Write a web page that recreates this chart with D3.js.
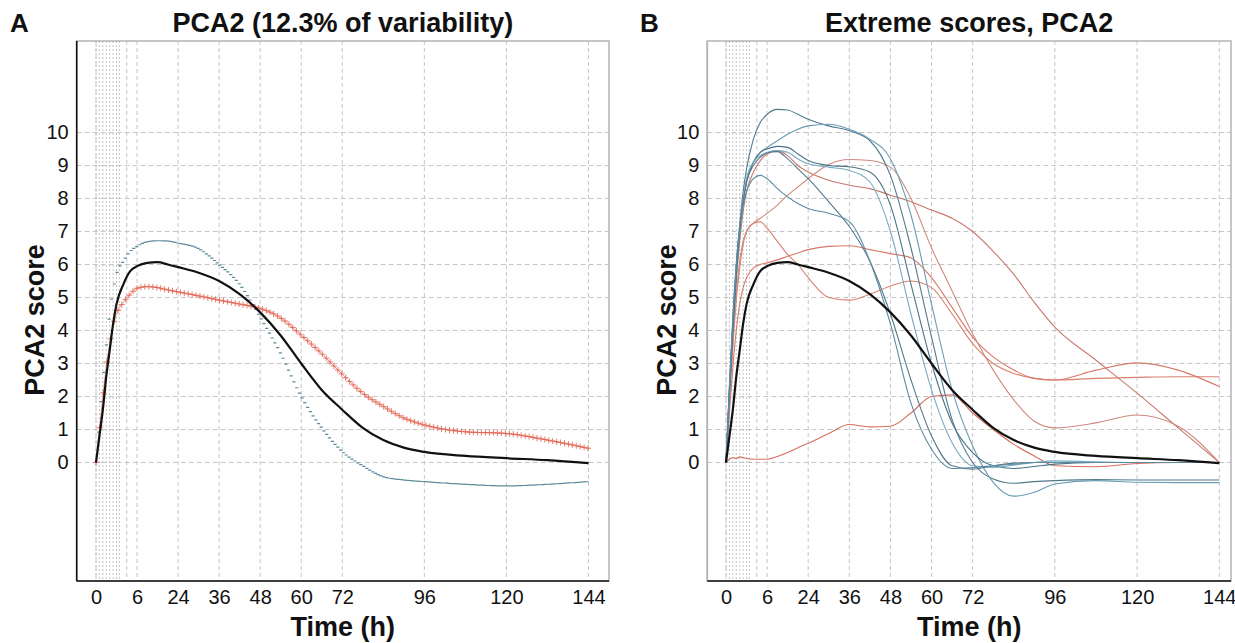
<!DOCTYPE html>
<html>
<head>
<meta charset="utf-8">
<script src="https://cdn.jsdelivr.net/npm/d3@7"></script>
<style>
  body { margin: 0; background: #fff; }
  text { font-family: "Liberation Sans", Arial, sans-serif; }
</style>
</head>
<body>
<svg id="chart" width="1235" height="643"></svg>
<script>
// sample times (h) the score curves are read at
const hours = [0, 1, 2, 3, 4, 5, 6, 8, 10, 12, 15, 18, 21, 24, 30, 36, 42, 48, 54, 60, 66, 72, 78, 84, 90, 96, 108, 120, 132, 144];

// x axis: labelled positions (the second one is labelled "6" in the original)
const tickHours = [0, 12, 24, 36, 48, 60, 72, 96, 120, 144];
const tickLabels = ["0", "6", "24", "36", "48", "60", "72", "96", "120", "144"];
const denseHours = [0, 1, 2, 3, 4, 5, 6, 6.8];
const extraGridHours = [9];
const scoreTicks = [0, 1, 2, 3, 4, 5, 6, 7, 8, 9, 10];

// panel A
const meanScore  = [0, 0.8, 1.6, 2.6, 3.4, 4.2, 4.8, 5.4, 5.8, 5.95, 6.05, 6.07, 6.0, 5.92, 5.75, 5.5, 5.1, 4.55, 3.85, 3.0, 2.2, 1.6, 1.05, 0.68, 0.45, 0.32, 0.2, 0.13, 0.07, -0.02];
const redScore   = [0, 1.0, 2.0, 2.9, 3.6, 4.15, 4.5, 4.85, 5.1, 5.28, 5.33, 5.3, 5.23, 5.17, 5.05, 4.92, 4.8, 4.67, 4.38, 3.86, 3.3, 2.67, 2.1, 1.7, 1.35, 1.14, 0.93, 0.88, 0.68, 0.43];
const blueScore  = [0, 1.2, 2.4, 3.5, 4.5, 5.2, 5.7, 6.1, 6.4, 6.55, 6.69, 6.72, 6.71, 6.65, 6.48, 6.0, 5.4, 4.4, 3.3, 2.0, 1.05, 0.33, -0.1, -0.43, -0.53, -0.58, -0.66, -0.71, -0.66, -0.58];

// panel B, extreme scores
const extremeBlue = [
  [0, 2.2, 4.2, 5.9, 7.2, 8.2, 8.9, 9.8, 10.3, 10.55, 10.7, 10.68, 10.55, 10.4, 10.2, 10.05, 9.75, 8.7, 6.5, 3.8, 1.3, 0.0, -0.5, -0.63, -0.58, -0.55, -0.52, -0.53, -0.53, -0.53],
  [0, 2.0, 3.9, 5.6, 6.9, 7.9, 8.5, 9.1, 9.4, 9.55, 9.75, 9.95, 10.1, 10.2, 10.25, 10.1, 9.8, 9.2, 7.5, 4.8, 2.2, 0.5, -0.6, -1.02, -0.9, -0.65, -0.55, -0.6, -0.61, -0.61],
  [0, 2.1, 4.0, 5.7, 7.0, 7.9, 8.5, 9.1, 9.4, 9.5, 9.58, 9.55, 9.35, 9.15, 9.0, 8.96, 8.8, 7.8, 5.4, 3.0, 1.2, 0.3, -0.1, -0.18, -0.12, -0.05, 0, 0, 0, 0],
  [0, 2.3, 4.4, 6.0, 7.2, 8.0, 8.6, 9.1, 9.3, 9.4, 9.45, 9.4, 9.2, 9.05, 8.95, 8.85, 8.5, 7.0, 4.5, 2.2, 0.6, -0.1, -0.15, -0.08, 0, 0.05, 0.02, 0, 0, 0],
  [0, 2.2, 4.2, 5.9, 7.1, 7.9, 8.5, 9.0, 9.25, 9.38, 9.42, 9.2, 8.9, 8.6, 7.9, 7.15, 6.1, 4.5, 2.5, 0.8, -0.1, -0.2, -0.1, -0.02, 0, 0, 0, 0, 0, 0],
  [0, 2.3, 4.4, 6.0, 7.1, 7.8, 8.2, 8.6, 8.7, 8.6, 8.3, 8.05, 7.85, 7.7, 7.55, 7.3, 6.1, 4.2, 1.8, 0.4, -0.18, -0.15, -0.1, -0.05, 0, 0, 0, 0, 0, 0]
];
const extremeRed = [
  [0, 2.0, 3.9, 5.5, 6.7, 7.6, 8.2, 8.8, 9.15, 9.35, 9.45, 9.3, 9.0, 8.8, 8.55, 8.4, 8.3, 8.1, 7.9, 7.65, 7.4, 7.0, 6.4, 5.7, 4.85, 4.1, 3.1, 2.1, 1.05, 0],
  [0, 1.8, 3.5, 4.9, 5.9, 6.6, 7.0, 7.25, 7.3, 7.1, 6.7, 6.3, 6.0, 5.6, 5.0, 4.92, 5.1, 5.35, 5.5, 5.3, 4.5, 3.6, 3.0, 2.7, 2.55, 2.5, 2.55, 2.58, 2.6, 2.6],
  [0, 1.5, 2.9, 4.0, 4.8, 5.3, 5.6, 5.9, 6.0, 6.05, 6.14, 6.25, 6.35, 6.45, 6.55, 6.57, 6.45, 6.33, 6.2, 5.6, 4.7, 3.8, 3.2, 2.8, 2.55, 2.5, 2.8, 3.02, 2.8, 2.3],
  [0, 1.9, 3.7, 5.1, 6.1, 6.7, 7.0, 7.25, 7.4, 7.55, 7.8, 8.1, 8.35, 8.6, 9.03, 9.18, 9.15, 8.95, 8.0, 6.5, 5.2, 3.9, 2.8, 1.9, 1.25, 1.05, 1.2, 1.44, 1.1, 0],
  [0, 0.1, 0.15, 0.12, 0.17, 0.15, 0.12, 0.1, 0.1, 0.1, 0.18, 0.3, 0.45, 0.58, 0.88, 1.15, 1.08, 1.1, 1.5, 2.0, 2.05, 1.5, 1.0, 0.55, 0.2, -0.1, -0.13, -0.03, 0, 0]
];
const blueColors = ["#52798c", "#6a9cb4", "#4a7388", "#74aac2", "#55788a", "#5b8aa2"];
const redColors = ["#c9786c", "#d9826f", "#d8786a", "#cf8a7e", "#d66f60"];

const svg = d3.select("#chart");
svg.append("rect").attr("width", 1235).attr("height", 643).attr("fill", "#fff");

function drawPanel(p) {
  const g = svg.append("g");
  const x = d3.scaleLinear().domain([0, 144]).range([p.x0, p.x144]);
  const y = d3.scaleLinear().domain([0, 10]).range([462.5, 132.5]);

  // grid
  g.selectAll(".hgrid").data(scoreTicks).enter().append("line")
    .attr("x1", p.left).attr("x2", p.right)
    .attr("y1", d => y(d)).attr("y2", d => y(d))
    .attr("stroke", "#c6c6c6").attr("stroke-dasharray", "5,3");
  g.selectAll(".dense").data(denseHours).enter().append("line")
    .attr("x1", d => x(d)).attr("x2", d => x(d))
    .attr("y1", p.top).attr("y2", p.bottom)
    .attr("stroke", "#c4c4c4").attr("stroke-dasharray", "2,2");
  g.selectAll(".vgrid").data(tickHours.concat(extraGridHours)).enter().append("line")
    .attr("x1", d => x(d)).attr("x2", d => x(d))
    .attr("y1", p.top).attr("y2", p.bottom)
    .attr("stroke", "#c6c6c6").attr("stroke-dasharray", "4,3");

  // frame
  g.append("rect").attr("x", p.left).attr("y", p.top)
    .attr("width", p.right - p.left).attr("height", p.bottom - p.top)
    .attr("fill", "none").attr("stroke", "#b4b4b4").attr("stroke-width", 1.5);
  g.append("line").attr("x1", p.left).attr("x2", p.left).attr("y1", p.top).attr("y2", p.bottom)
    .attr("stroke", p.leftAxisColor).attr("stroke-width", 1.6);
  g.append("line").attr("x1", p.left).attr("x2", p.right).attr("y1", p.bottom).attr("y2", p.bottom)
    .attr("stroke", "#111").attr("stroke-width", 1.6);

  // axes (labels only)
  const xAxis = g.append("g").attr("transform", `translate(0,${p.bottom})`)
    .call(d3.axisBottom(x).tickValues(tickHours).tickFormat((d, i) => tickLabels[i]).tickSize(0).tickPadding(9));
  xAxis.select(".domain").remove();
  xAxis.selectAll("text").attr("font-size", 20).attr("fill", "#111")
    .style("font-family", "'Liberation Sans', Arial, sans-serif");

  const yAxis = g.append("g").attr("transform", `translate(${p.left},0)`)
    .call(d3.axisLeft(y).tickValues(scoreTicks).tickFormat(d3.format("d")).tickSize(0).tickPadding(p.yPad));
  yAxis.select(".domain").remove();
  yAxis.selectAll("text").attr("font-size", 20).attr("fill", "#111")
    .style("font-family", "'Liberation Sans', Arial, sans-serif");

  // titles
  const mid = (p.left + p.right) / 2;
  g.append("text").attr("x", p.letterX).attr("y", 32).attr("font-size", 26).attr("font-weight", "bold")
    .attr("fill", "#111").text(p.letter);
  g.append("text").attr("x", mid).attr("y", 32).attr("text-anchor", "middle")
    .attr("font-size", 27).attr("font-weight", "bold").attr("fill", "#111").text(p.title);
  g.append("text").attr("x", mid).attr("y", 636).attr("text-anchor", "middle")
    .attr("font-size", 27).attr("font-weight", "bold").attr("fill", "#111").text("Time (h)");
  g.append("text").attr("transform", `translate(${p.yLabelX},320) rotate(-90)`).attr("text-anchor", "middle")
    .attr("font-size", 27).attr("font-weight", "bold").attr("fill", "#111").text("PCA2 score");

  const line = d3.line().x((d, i) => x(hours[i])).y(d => y(d)).curve(d3.curveMonotoneX);
  return { g, x, y, line };
}

// walk a drawn path and collect points at a fixed horizontal spacing
function pointsAlong(node, dx) {
  const L = node.getTotalLength();
  const pts = [];
  let nextX = -Infinity;
  for (let s = 0; s <= L; s += 0.5) {
    const pt = node.getPointAtLength(s);
    if (pt.x >= nextX) { pts.push(pt); nextX = pt.x + dx; }
  }
  return pts;
}

// ---- Panel A ----
const A = drawPanel({
  left: 76.7, right: 609, top: 41, bottom: 581, x0: 96, x144: 588.5,
  leftAxisColor: "#111", yPad: 8, letter: "A", letterX: 10,
  title: "PCA2 (12.3% of variability)", yLabelX: 44
});

// upper curve drawn as short dash markers (gaps open up where it is steep)
const bluePath = A.g.append("path").datum(blueScore).attr("d", A.line)
  .attr("fill", "none").attr("stroke", "none");
const dashes = pointsAlong(bluePath.node(), 2.6)
  .map(pt => `M${pt.x - 1.6},${pt.y}h3.2`).join("");
A.g.append("path").attr("d", dashes).attr("fill", "none")
  .attr("stroke", "#5f8a9c").attr("stroke-width", 1.2);

const redPath = A.g.append("path").datum(redScore).attr("d", A.line)
  .attr("fill", "none").attr("stroke", "#eb9a8a").attr("stroke-width", 1);
const plus = pointsAlong(redPath.node(), 3.6)
  .map(pt => `M${pt.x - 3},${pt.y}h6M${pt.x},${pt.y - 3}v6`).join("");
A.g.append("path").attr("d", plus).attr("fill", "none")
  .attr("stroke", "#e2624f").attr("stroke-width", 1).attr("opacity", 0.85);

A.g.append("path").datum(meanScore).attr("d", A.line)
  .attr("fill", "none").attr("stroke", "#111").attr("stroke-width", 2.2);

// ---- Panel B ----
const B = drawPanel({
  left: 707.3, right: 1231, top: 41, bottom: 581, x0: 726, x144: 1219.3,
  leftAxisColor: "#b4b4b4", yPad: 8, letter: "B", letterX: 640,
  title: "Extreme scores, PCA2", yLabelX: 676
});

B.g.selectAll(".red").data(extremeRed).enter().append("path")
  .attr("d", B.line).attr("fill", "none")
  .attr("stroke", (d, i) => redColors[i]).attr("stroke-width", 1.1);
B.g.selectAll(".blue").data(extremeBlue).enter().append("path")
  .attr("d", B.line).attr("fill", "none")
  .attr("stroke", (d, i) => blueColors[i]).attr("stroke-width", 1.1);
B.g.append("path").datum(meanScore).attr("d", B.line)
  .attr("fill", "none").attr("stroke", "#111").attr("stroke-width", 2.2);
</script>
</body>
</html>
